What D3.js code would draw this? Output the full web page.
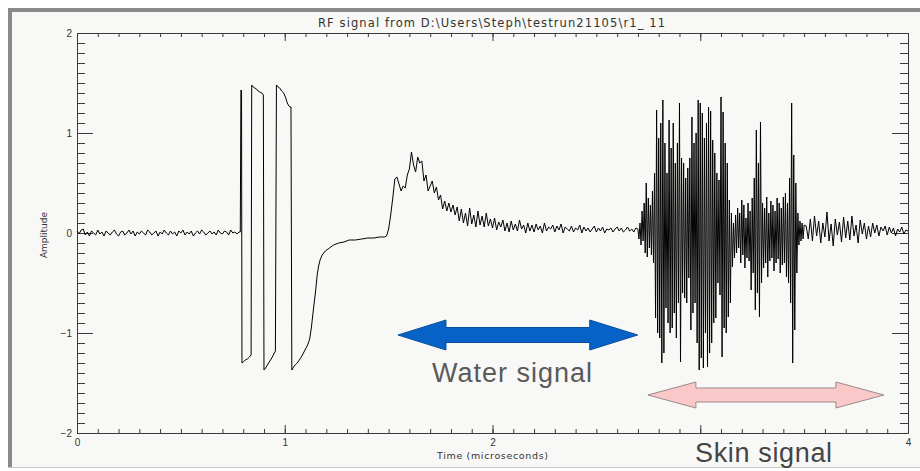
<!DOCTYPE html>
<html>
<head>
<meta charset="utf-8">
<script src="https://cdn.jsdelivr.net/npm/d3@7"></script>
<style>
body { margin: 0; background: #fff; }
svg { display: block; }
</style>
</head>
<body>
<svg id="chart"></svg>
<script>
// amplitude samples, grouped by stretch of the record
// quiet baseline before the pulses: t = 0 .. 0.78 us, every 0.01 us
var baseNoise = [
    0.02, -0.01, 0.03, 0.04, -0.02, 0.01, -0.03, 0.02, 0.00, -0.02,
    0.03, -0.01, 0.01, -0.03, 0.02, 0.00, -0.02, 0.01, 0.03, -0.01,
    -0.03, 0.01, 0.02, -0.02, 0.00, 0.03, -0.01, 0.02, -0.03, 0.01,
    -0.01, 0.02, 0.00, -0.02, 0.03, 0.01, -0.02, 0.00, 0.02, -0.03,
    0.01, -0.01, 0.03, 0.00, -0.02, 0.02, -0.01, 0.01, -0.03, 0.02,
    0.00, 0.03, -0.02, 0.01, -0.01, 0.02, -0.03, 0.00, 0.02, -0.01,
    0.03, 0.01, -0.02, 0.00, 0.02, -0.01, 0.01, -0.02, 0.03, 0.00,
    -0.01, 0.02, 0.01, -0.02, 0.03, 0.00, 0.01, -0.01, 0.01
];

// excitation pulses and the slow recovery, [time, amplitude]
var pulses = [
    [0.786, 0.01], [0.789, 1.43], [0.792, 1.42], [0.794, -1.30], [0.800, -1.29],
    [0.810, -1.27], [0.820, -1.26], [0.830, -1.24], [0.838, -1.22], [0.841, 1.48],
    [0.848, 1.46], [0.856, 1.45], [0.864, 1.44], [0.872, 1.42], [0.880, 1.41],
    [0.890, 1.40], [0.897, 1.38], [0.900, -1.37], [0.908, -1.35], [0.916, -1.32],
    [0.925, -1.29], [0.935, -1.26], [0.945, -1.22], [0.955, -1.18], [0.960, 1.48],
    [0.968, 1.46], [0.976, 1.45], [0.985, 1.42], [0.995, 1.40], [1.005, 1.35],
    [1.012, 1.30], [1.020, 1.27], [1.025, 1.26], [1.030, 1.26], [1.034, -1.37],
    [1.042, -1.34], [1.050, -1.32], [1.060, -1.30], [1.070, -1.27], [1.080, -1.24],
    [1.090, -1.20], [1.100, -1.16], [1.110, -1.12], [1.120, -1.06], [1.128, -0.95],
    [1.136, -0.80], [1.144, -0.66], [1.150, -0.55], [1.156, -0.42], [1.163, -0.33],
    [1.170, -0.27], [1.180, -0.22], [1.195, -0.18], [1.215, -0.15], [1.235, -0.12],
    [1.260, -0.10], [1.285, -0.09], [1.310, -0.07], [1.340, -0.07], [1.370, -0.06],
    [1.400, -0.05], [1.430, -0.05], [1.455, -0.04], [1.470, -0.04]
];

// water echo: t = 1.48 .. 2.69 us, every 0.01 us
var waterVals = [
    -0.04, -0.03, 0.04, 0.18, 0.35, 0.54, 0.56, 0.49, 0.42, 0.47,
    0.45, 0.58, 0.64, 0.81, 0.68, 0.61, 0.76, 0.70, 0.72, 0.52,
    0.58, 0.42, 0.47, 0.52, 0.40, 0.46, 0.33, 0.38, 0.24, 0.32,
    0.22, 0.30, 0.21, 0.28, 0.18, 0.26, 0.12, 0.24, 0.10, 0.20,
    0.07, 0.25, 0.09, 0.18, 0.06, 0.22, 0.08, 0.17, 0.06, 0.20,
    0.07, 0.14, 0.05, 0.15, 0.03, 0.11, 0.06, 0.13, 0.02, 0.10,
    0.01, 0.12, 0.03, 0.09, 0.02, 0.13, 0.04, 0.08, 0.00, 0.10,
    0.02, 0.08, 0.01, 0.09, 0.03, 0.07, 0.00, 0.10, 0.02, 0.06,
    0.04, 0.08, 0.01, 0.07, 0.03, 0.09, 0.00, 0.06, 0.04, 0.02,
    0.07, 0.01, 0.05, 0.03, 0.08, 0.00, 0.06, 0.02, 0.05, 0.01,
    0.04, 0.07, 0.01, 0.05, 0.02, 0.06, 0.00, 0.04, 0.03, 0.05,
    0.01, 0.04, 0.06, 0.02, 0.05, 0.01, 0.03, 0.06, 0.02, 0.04,
    0.01, 0.05
];

// skin echo burst: t = 2.70 .. 3.50 us, every 0.005 us
var skinVals = [
    0.04, -0.06, 0.10, -0.12, 0.22, -0.08, 0.30, -0.20, 0.50, -0.24,
    0.35, -0.15, 0.28, -0.22, 0.42, -0.30, 0.60, -0.85, 1.23, -1.00,
    0.95, -1.05, 1.10, -1.30, 1.33, -1.20, 0.90, -0.75, 0.60, -0.90,
    1.13, -1.00, 0.85, -0.95, 1.10, -0.80, 0.70, -1.05, 0.90, -0.70,
    1.30, -1.29, 0.75, -0.60, 0.70, -0.65, 0.55, -0.70, 0.65, -0.45,
    0.75, -0.97, 1.16, -0.80, 0.90, -0.70, 1.00, -1.10, 1.33, -1.37,
    1.30, -1.25, 1.20, -1.35, 0.95, -1.00, 1.10, -1.34, 1.26, -1.20,
    1.22, -1.10, 0.93, -0.90, 0.80, -0.85, 0.60, -0.50, 0.53, -0.62,
    1.36, -1.24, 1.21, -0.95, 0.90, -1.00, 0.70, -0.84, 0.33, -0.70,
    0.20, -0.34, 0.10, -0.25, 0.18, -0.20, 0.25, -0.15, 0.20, -0.30,
    0.33, -0.22, 0.28, -0.35, 0.15, -0.25, 0.30, -0.28, 0.22, -0.57,
    0.35, -0.40, 0.55, -0.77, 1.03, -0.60, 0.70, -0.84, 1.11, -0.50,
    0.30, -0.35, 0.25, -0.30, 0.36, -0.44, 0.20, -0.28, 0.32, -0.25,
    0.28, -0.38, 0.22, -0.30, 0.35, -0.26, 0.30, -0.40, 0.25, -0.32,
    0.36, -0.30, 0.40, -0.44, 0.30, -0.50, 0.55, -0.70, 1.30, -1.30,
    0.78, -0.97, 0.50, -0.40, 0.20, -0.12, 0.12, -0.08, 0.10, -0.06,
    0.08
];

// tail after the burst: t = 3.51 .. 4.00 us, every 0.01 us
var tailVals = [
    0.07, -0.06, 0.14, -0.08, 0.17, -0.03, 0.12, -0.10, 0.10, -0.04,
    0.21, -0.08, 0.09, -0.13, 0.14, -0.02, 0.11, -0.09, 0.16, -0.05,
    0.12, -0.07, 0.17, -0.03, 0.08, -0.10, 0.13, -0.01, 0.10, -0.06,
    0.07, -0.04, 0.10, 0.00, 0.08, -0.03, 0.06, 0.02, 0.07, -0.02,
    0.06, 0.00, 0.05, -0.03, 0.04, 0.01, 0.06, -0.01, 0.03, 0.02
];

var xTicks = [0, 1, 2, 3, 4];
// the "3" label is hidden under the skin label in the original
var xTickLabels = ["0", "1", "2", "", "4"];
var yTicks = [-2, -1, 0, 1, 2];

// annotation arrows, in data units
var waterArrow = { from: 1.545, to: 2.699, at: -1.02 };
var skinArrow = { from: 2.748, to: 3.884, at: -1.62 };

var W = 920, H = 471;
var margin = { top: 33, right: 12, bottom: 38, left: 77 },
    width = W - margin.left - margin.right,
    height = H - margin.top - margin.bottom;

var svg = d3.select("#chart")
    .attr("width", W)
    .attr("height", H)
    .style("font-family", "'DejaVu Sans', sans-serif");

// window frame
svg.append("rect").attr("x", 0).attr("y", 0).attr("width", W).attr("height", H).attr("fill", "#fff");
svg.append("rect").attr("x", 8).attr("y", 8).attr("width", W - 8).attr("height", 460).attr("fill", "#f8f8f6");
svg.append("rect").attr("x", 8).attr("y", 8).attr("width", 4).attr("height", 460).attr("fill", "#8a8a8a");
svg.append("rect").attr("x", 8).attr("y", 8).attr("width", W - 8).attr("height", 4).attr("fill", "#8a8a8a");
svg.append("line").attr("x1", 8).attr("x2", W).attr("y1", 467.5).attr("y2", 467.5).attr("stroke", "#c8c8c8");

var g = svg.append("g")
    .attr("transform", "translate(" + margin.left + "," + margin.top + ")");

var x = d3.scaleLinear().domain([0, 4]).range([0, width]);
var y = d3.scaleLinear().domain([-2, 2]).range([height, 0]);

function segment(t0, dt, vals) {
    return vals.map(function(v, i) {
        return { t: +(t0 + i * dt).toFixed(4), v: v };
    });
}

var signal = []
    .concat(segment(0, 0.01, baseNoise))
    .concat(pulses.map(function(p) { return { t: p[0], v: p[1] }; }))
    .concat(segment(1.48, 0.01, waterVals))
    .concat(segment(2.70, 0.005, skinVals))
    .concat(segment(3.51, 0.01, tailVals));

var minorX = d3.range(0, 4.001, 0.1);
var minorY = d3.range(-2, 2.001, 0.1);
var fmt = function(d) { return d < 0 ? "\u2212" + Math.abs(d) : "" + d; };

function styleAxis(sel) {
    sel.selectAll("path, line").attr("stroke", "#3a3a3a");
    sel.selectAll("text").attr("fill", "#333").style("font-size", "10px");
}

// minor ticks on all four sides
g.append("g").attr("transform", "translate(0," + height + ")")
    .call(d3.axisBottom(x).tickValues(minorX).tickSizeInner(-4).tickSizeOuter(0).tickFormat(""))
    .call(styleAxis);
g.append("g")
    .call(d3.axisTop(x).tickValues(minorX).tickSizeInner(-4).tickSizeOuter(0).tickFormat(""))
    .call(styleAxis);
g.append("g")
    .call(d3.axisLeft(y).tickValues(minorY).tickSizeInner(-8).tickSizeOuter(0).tickFormat(""))
    .call(styleAxis);
g.append("g").attr("transform", "translate(" + width + ",0)")
    .call(d3.axisRight(y).tickValues(minorY).tickSizeInner(-8).tickSizeOuter(0).tickFormat(""))
    .call(styleAxis);

// major ticks and labels
g.append("g").attr("transform", "translate(0," + height + ")")
    .call(d3.axisBottom(x).tickValues(xTicks).tickSizeInner(-8).tickSizeOuter(0).tickPadding(6)
        .tickFormat(function(d, i) { return xTickLabels[i]; }))
    .call(styleAxis);
g.append("g")
    .call(d3.axisTop(x).tickValues(xTicks).tickSizeInner(-8).tickSizeOuter(0).tickFormat(""))
    .call(styleAxis);
g.append("g")
    .call(d3.axisLeft(y).tickValues(yTicks).tickSizeInner(-16).tickSizeOuter(0).tickPadding(5).tickFormat(fmt))
    .call(styleAxis);
g.append("g").attr("transform", "translate(" + width + ",0)")
    .call(d3.axisRight(y).tickValues(yTicks).tickSizeInner(-16).tickSizeOuter(0).tickFormat(""))
    .call(styleAxis);

// the trace
var line = d3.line()
    .x(function(d) { return x(d.t); })
    .y(function(d) { return y(d.v); });

g.append("path")
    .datum(signal)
    .attr("fill", "none")
    .attr("stroke", "#000")
    .attr("stroke-width", 1)
    .attr("stroke-linejoin", "miter")
    .attr("d", line);

// titles
svg.append("text")
    .attr("x", 318).attr("y", 27)
    .attr("textLength", 347).attr("lengthAdjust", "spacing")
    .attr("fill", "#333").style("font-size", "11.5px")
    .text("RF signal from D:\\Users\\Steph\\testrun21105\\r1_ 11");

svg.append("text")
    .attr("x", 437).attr("y", 459)
    .attr("textLength", 111).attr("lengthAdjust", "spacing")
    .attr("fill", "#333").style("font-size", "9.5px")
    .text("Time (microseconds)");

svg.append("text")
    .attr("transform", "translate(47,235) rotate(-90)")
    .attr("text-anchor", "middle")
    .attr("fill", "#333").style("font-size", "9px")
    .text("Amplitude");

// double-headed arrow shape around a horizontal span
function arrowPath(a, headLen, headHalf, shaftHalf) {
    var x0 = x(a.from), x1 = x(a.to), cy = y(a.at);
    var pts = [
        [x0, cy], [x0 + headLen, cy - headHalf], [x0 + headLen, cy - shaftHalf],
        [x1 - headLen, cy - shaftHalf], [x1 - headLen, cy - headHalf], [x1, cy],
        [x1 - headLen, cy + headHalf], [x1 - headLen, cy + shaftHalf],
        [x0 + headLen, cy + shaftHalf], [x0 + headLen, cy + headHalf]
    ];
    return "M" + pts.map(function(p) { return p.join(","); }).join("L") + "Z";
}

g.append("path")
    .attr("d", arrowPath(waterArrow, 48, 15, 7.5))
    .attr("fill", "#0662c6")
    .attr("stroke", "#0a4f9c")
    .attr("stroke-width", 1);

g.append("path")
    .attr("d", arrowPath(skinArrow, 48, 13, 7))
    .attr("fill", "#fac8c8")
    .attr("stroke", "#9a8a8a")
    .attr("stroke-width", 1);

g.append("text")
    .attr("x", x(1.709)).attr("y", y(-1.49))
    .attr("textLength", 160).attr("lengthAdjust", "spacing")
    .attr("fill", "#5a5a5a")
    .style("font-family", "'Liberation Sans', Arial, sans-serif")
    .style("font-size", "27px")
    .text("Water signal");

g.append("text")
    .attr("x", x(2.975)).attr("y", y(-2.29))
    .attr("textLength", 137).attr("lengthAdjust", "spacing")
    .attr("fill", "#454545")
    .style("font-family", "'Liberation Sans', Arial, sans-serif")
    .style("font-size", "27px")
    .text("Skin signal");
</script>
</body>
</html>
